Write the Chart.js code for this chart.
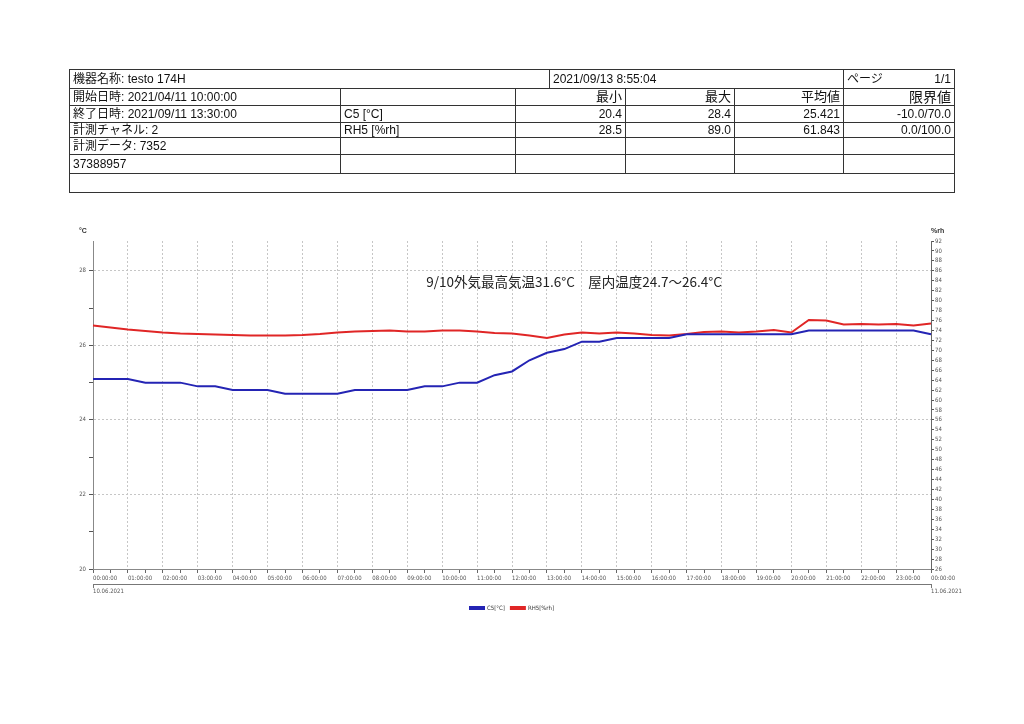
<!DOCTYPE html>
<html lang="ja">
<head>
<meta charset="utf-8">
<title>testo 174H</title>
<script src="https://cdn.jsdelivr.net/npm/chart.js@4.4.0/dist/chart.umd.min.js"></script>
<style>
  html, body { margin: 0; padding: 0; background: #fff; }
  body { width: 1024px; height: 724px; position: relative; overflow: hidden;
         font-family: "Liberation Sans", Arial, "Noto Sans CJK JP", sans-serif; }
  #chart-wrap { position: absolute; left: 0; top: 0; width: 1024px; height: 724px; }
  table.info { position: absolute; left: 69px; top: 69px; width: 885px; border-collapse: collapse;
               table-layout: fixed; font-size: 12px; color: #111; }
  table.info td { border: 1px solid #333; padding: 0 3px; white-space: nowrap; overflow: hidden;
                  line-height: 14px; vertical-align: middle; }
  table.info td.r { text-align: right; }
  table.info td.h { text-align: right; font-size: 13px; }
  table.info td.h.big { font-size: 14px; }
  .page { display: flex; justify-content: space-between; }
</style>
</head>
<body>
<div id="chart-wrap"><canvas id="logger-chart"></canvas></div>

<table class="info">
  <colgroup>
    <col style="width:271px"><col style="width:175px"><col style="width:34px"><col style="width:76px">
    <col style="width:109px"><col style="width:109px"><col style="width:111px">
  </colgroup>
  <tr style="height:19px"><td colspan="3">機器名称: testo 174H</td><td colspan="3">2021/09/13 8:55:04</td>
      <td><div class="page"><span>ページ</span><span>1/1</span></div></td></tr>
  <tr style="height:17px"><td>開始日時: 2021/04/11 10:00:00</td><td></td><td colspan="2" class="h">最小</td>
      <td class="h">最大</td><td class="h">平均値</td><td class="h big">限界値</td></tr>
  <tr style="height:17px"><td>終了日時: 2021/09/11 13:30:00</td><td>C5 [°C]</td><td colspan="2" class="r">20.4</td>
      <td class="r">28.4</td><td class="r">25.421</td><td class="r">-10.0/70.0</td></tr>
  <tr style="height:15px"><td>計測チャネル: 2</td><td>RH5 [%rh]</td><td colspan="2" class="r">28.5</td>
      <td class="r">89.0</td><td class="r">61.843</td><td class="r">0.0/100.0</td></tr>
  <tr style="height:17px"><td>計測データ: 7352</td><td></td><td colspan="2"></td><td></td><td></td><td></td></tr>
  <tr style="height:19px"><td>37388957</td><td></td><td colspan="2"></td><td></td><td></td><td></td></tr>
  <tr style="height:19px"><td colspan="7"></td></tr>
</table>

<script>
// half-hourly readings, 10.06.2021 00:00 -> 11.06.2021 00:00
const timeLabels = [
  '00:00:00', '00:30:00', '01:00:00', '01:30:00', '02:00:00', '02:30:00', '03:00:00', '03:30:00',
  '04:00:00', '04:30:00', '05:00:00', '05:30:00', '06:00:00', '06:30:00', '07:00:00', '07:30:00',
  '08:00:00', '08:30:00', '09:00:00', '09:30:00', '10:00:00', '10:30:00', '11:00:00', '11:30:00',
  '12:00:00', '12:30:00', '13:00:00', '13:30:00', '14:00:00', '14:30:00', '15:00:00', '15:30:00',
  '16:00:00', '16:30:00', '17:00:00', '17:30:00', '18:00:00', '18:30:00', '19:00:00', '19:30:00',
  '20:00:00', '20:30:00', '21:00:00', '21:30:00', '22:00:00', '22:30:00', '23:00:00', '23:30:00',
  '00:00:00'
];

// C5 [°C]
const tempC = [
  25.1, 25.1, 25.1, 25.0, 25.0, 25.0, 24.9, 24.9,
  24.8, 24.8, 24.8, 24.7, 24.7, 24.7, 24.7, 24.8,
  24.8, 24.8, 24.8, 24.9, 24.9, 25.0, 25.0, 25.2,
  25.3, 25.6, 25.8, 25.9, 26.1, 26.1, 26.2, 26.2,
  26.2, 26.2, 26.3, 26.3, 26.3, 26.3, 26.3, 26.3,
  26.3, 26.4, 26.4, 26.4, 26.4, 26.4, 26.4, 26.4,
  26.3
];

// RH5 [%rh]
const humidity = [
  75.0, 74.6, 74.2, 73.9, 73.6, 73.4, 73.3, 73.2,
  73.1, 73.0, 73.0, 73.0, 73.1, 73.3, 73.6, 73.8,
  73.9, 74.0, 73.8, 73.8, 74.0, 74.0, 73.8, 73.5,
  73.4, 73.0, 72.5, 73.2, 73.6, 73.4, 73.6, 73.4,
  73.1, 73.0, 73.3, 73.7, 73.8, 73.6, 73.8, 74.1,
  73.6, 76.1, 76.0, 75.2, 75.3, 75.2, 75.3, 75.0,
  75.4
];

const dateLabels = ['10.06.2021', '11.06.2021'];
const noteText = '9/10外気最高気温31.6°C　屋内温度24.7～26.4°C';

const tickFont = { family: '"Liberation Sans Narrow", "DejaVu Sans Condensed", sans-serif', size: 6 };
const gridGray = '#c6c6c6';

// unit labels, note and date bar under the time axis
const extrasPlugin = {
    id: 'extras',
    afterDraw(chart) {
        const ctx = chart.ctx;
        const x = chart.scales.x;
        ctx.save();
        ctx.fillStyle = '#333';
        ctx.font = 'bold 7px "Liberation Sans", sans-serif';
        ctx.textBaseline = 'middle';
        ctx.textAlign = 'left';
        ctx.fillText('°C', 79, 231);
        ctx.fillText('%rh', 931, 231);

        ctx.font = '13.5px "Noto Sans CJK JP", sans-serif';
        ctx.fillStyle = '#222';
        ctx.textAlign = 'center';
        ctx.fillText(noteText, 574, 282);

        const y = 584;
        ctx.strokeStyle = '#777';
        ctx.lineWidth = 1;
        ctx.beginPath();
        ctx.moveTo(x.left, y + 0.5); ctx.lineTo(x.right, y + 0.5);
        ctx.moveTo(x.left + 0.5, y); ctx.lineTo(x.left + 0.5, y + 4);
        ctx.moveTo(x.right + 0.5, y); ctx.lineTo(x.right + 0.5, y + 4);
        ctx.stroke();
        ctx.font = tickFont.size + 'px ' + tickFont.family;
        ctx.fillStyle = '#555';
        ctx.textAlign = 'left';
        ctx.fillText(dateLabels[0], x.left, y + 7);
        ctx.fillText(dateLabels[1], x.right, y + 7);
        ctx.restore();
    }
};

new Chart(document.getElementById('logger-chart'), {
    type: 'line',
    data: {
        labels: timeLabels,
        datasets: [
            { label: 'C5[°C]', data: tempC, yAxisID: 'y', borderColor: '#2424b4', backgroundColor: '#2424b4',
              borderWidth: 2, pointRadius: 0, tension: 0 },
            { label: 'RH5[%rh]', data: humidity, yAxisID: 'y1', borderColor: '#e02626', backgroundColor: '#e02626',
              borderWidth: 2, pointRadius: 0, tension: 0 },
        ],
    },
    options: {
        responsive: true, maintainAspectRatio: false, animation: false,
        layout: { padding: { top: 241, bottom: 103, left: 0, right: 0 } },
        plugins: {
            legend: {
                position: 'bottom',
                labels: { boxWidth: 14, boxHeight: 2, padding: 6, color: '#333', font: tickFont },
            },
            tooltip: { enabled: false },
        },
        scales: {
            x: {
                offset: false,
                ticks: {
                    autoSkip: false, maxRotation: 0, align: 'start', color: '#555', font: tickFont, padding: 2,
                    callback: (v, i) => i % 2 === 0 ? timeLabels[i] : '',
                },
                grid: {
                    color: (c) => (c.index % 2 === 0 && c.index > 0 && c.index < timeLabels.length - 1) ? gridGray : 'transparent',
                    tickColor: '#666', tickLength: 4,
                },
                border: { color: '#888', dash: [2, 2] },
                afterFit: (s) => { s.height = 30; },
            },
            y: {
                position: 'left', min: 20, max: 28.8,
                ticks: { stepSize: 1, includeBounds: false, color: '#555', font: tickFont, padding: 3,
                         callback: (v) => v % 2 === 0 ? v : '' },
                grid: {
                    color: (c) => (c.tick && c.tick.value % 2 === 0 && c.tick.value > 20) ? gridGray : 'transparent',
                    tickColor: '#555', tickLength: 4,
                },
                border: { color: '#888', dash: [2, 2] },
                afterFit: (s) => { s.width = 93; },
            },
            y1: {
                position: 'right', min: 26, max: 92,
                ticks: { stepSize: 2, autoSkip: false, color: '#555', font: tickFont, padding: 1 },
                grid: { drawOnChartArea: false, tickColor: '#555', tickLength: 3 },
                border: { color: '#666' },
                afterFit: (s) => { s.width = 93; },
            },
        },
    },
    plugins: [extrasPlugin],
});
</script>
</body>
</html>
